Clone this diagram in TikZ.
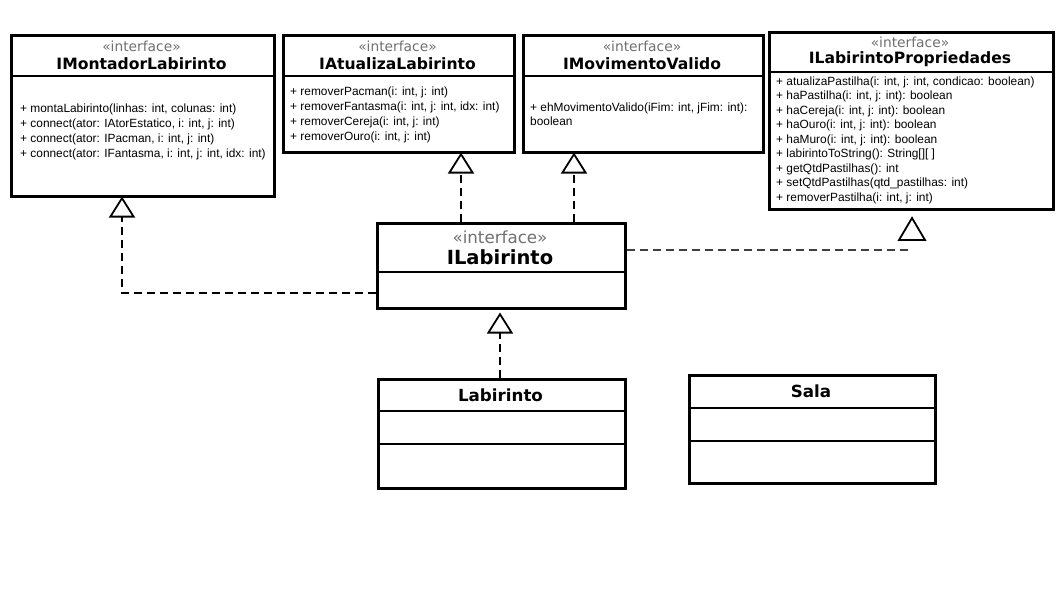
\documentclass[tikz,border=0pt]{standalone}
\usepackage{fontspec}
\usetikzlibrary{arrows.meta}
\newfontfamily\umlsans{DejaVu Sans}
\newfontfamily\umlarial{Liberation Sans}
\definecolor{stereogray}{HTML}{707070}
\definecolor{dashgray}{HTML}{404040}
\begin{document}
\begin{tikzpicture}[x=1pt,y=-1pt,
  umlbox/.style={draw, line width=2.8pt, inner sep=0pt, anchor=north west},
  divider/.style={line width=2.8pt},
  stereo/.style={font=\umlsans\fontsize{13.8}{14}\selectfont, text=stereogray, inner sep=0pt},
  cname/.style={font=\umlsans\bfseries\fontsize{15.6}{16}\selectfont, inner sep=0pt},
  bigname/.style={font=\umlsans\bfseries\fontsize{19.5}{20}\selectfont, inner sep=0pt},
  bigstereo/.style={font=\umlsans\fontsize{16.7}{18}\selectfont, text=stereogray, inner sep=0pt},
  clsname/.style={font=\umlsans\bfseries\fontsize{16.7}{18}\selectfont, inner sep=0pt},
  meth/.style={font=\umlarial\fontsize{11.9}{15}\selectfont, align=left, anchor=north west, inner sep=0pt},
  real/.style={dashed, dash pattern=on 8pt off 5pt, line width=1.8pt, draw=black,
    -{Triangle[open, length=21pt, width=26pt, line width=1.8pt, sep=0pt]}},
  tri/.style={line width=1.8pt, solid}
]
\useasboundingbox[fill=white] (0,0) rectangle (1058,595);

% IMontadorLabirinto
\node[umlbox, minimum width=263pt, minimum height=161pt] (mont) at (10,34) {};
\node[stereo] (montS) at (141.5,46) {«interface»};
\node[cname] (montN) at (141.5,64) {IMontadorLabirinto};
\draw[divider] (10,76) -- (273,76);
\node[meth] (montM) at (20,103.2) {+ montaLabirinto(linhas: int, colunas: int)\\+ connect(ator: IAtorEstatico, i: int, j: int)\\+ connect(ator: IPacman, i: int, j: int)\\+ connect(ator: IFantasma, i: int, j: int, idx: int)};

% IAtualizaLabirinto
\node[umlbox, minimum width=231pt, minimum height=117pt] (atu) at (282,34) {};
\node[stereo] (atuS) at (397.5,46) {«interface»};
\node[cname] (atuN) at (397.5,64) {IAtualizaLabirinto};
\draw[divider] (282,76) -- (513,76);
\node[meth] (atuM) at (290,86.2) {+ removerPacman(i: int, j: int)\\+ removerFantasma(i: int, j: int, idx: int)\\+ removerCereja(i: int, j: int)\\+ removerOuro(i: int, j: int)};

% IMovimentoValido
\node[umlbox, minimum width=240pt, minimum height=117pt] (mov) at (522,34) {};
\node[stereo] (movS) at (642,46) {«interface»};
\node[cname] (movN) at (642,64) {IMovimentoValido};
\draw[divider] (522,76) -- (762,76);
\node[meth, font=\umlarial\fontsize{11.9}{14.5}\selectfont] (movM) at (530,102.2) {+ ehMovimentoValido(iFim: int, jFim: int):\\boolean};

% ILabirintoPropriedades
\node[umlbox, minimum width=284pt, minimum height=177pt] (prop) at (768,31) {};
\node[stereo] (propS) at (910,42) {«interface»};
\node[cname] (propN) at (910,59) {ILabirintoPropriedades};
\draw[divider] (768,72) -- (1052,72);
\node[meth, font=\umlarial\fontsize{11.9}{14.5}\selectfont] (propM) at (776,76.2) {+ atualizaPastilha(i: int, j: int, condicao: boolean)\\+ haPastilha(i: int, j: int): boolean\\+ haCereja(i: int, j: int): boolean\\+ haOuro(i: int, j: int): boolean\\+ haMuro(i: int, j: int): boolean\\+ labirintoToString(): String[][ ]\\+ getQtdPastilhas(): int\\+ setQtdPastilhas(qtd\_pastilhas: int)\\+ removerPastilha(i: int, j: int)};

% ILabirinto
\node[umlbox, minimum width=248pt, minimum height=85pt] (ilab) at (376,222) {};
\node[bigstereo] (ilabS) at (500,237) {«interface»};
\node[bigname] (ilabN) at (500,257) {ILabirinto};
\draw[divider] (376,272) -- (624,272);

% Labirinto
\node[umlbox, minimum width=247pt, minimum height=109pt] (lab) at (377,378) {};
\node[clsname] (labN) at (500.5,395) {Labirinto};
\draw[divider] (377,411) -- (624,411);
\draw[divider] (377,444) -- (624,444);

% Sala
\node[umlbox, minimum width=246pt, minimum height=108pt] (sala) at (688,374) {};
\node[clsname] (salaN) at (811,391) {Sala};
\draw[divider] (688,408) -- (934,408);
\draw[divider] (688,441) -- (934,441);

% realizations
\coordinate (montTip) at (122,196.5);
\coordinate (ilabW) at (376,293);
\draw[real] (ilabW) -| (montTip);
\draw[real] (ilab.north -| 461,0) -- (461,152.5);
\draw[real] (ilab.north -| 574,0) -- (574,152.5);
\draw[real] (lab.north -| 500,0) -- (500,312.5);

% detached realization to ILabirintoPropriedades
\coordinate (propEnd) at (912,250);
\coordinate (propTip) at (912,218);
\draw[dashed, dash pattern=on 8pt off 5pt, line width=1.8pt, draw=dashgray] (ilab.east |- propEnd) -- (propEnd);
\draw[tri] (propTip) -- ++(-13,22) -- ++(26,0) -- cycle;
\end{tikzpicture}
\end{document}
